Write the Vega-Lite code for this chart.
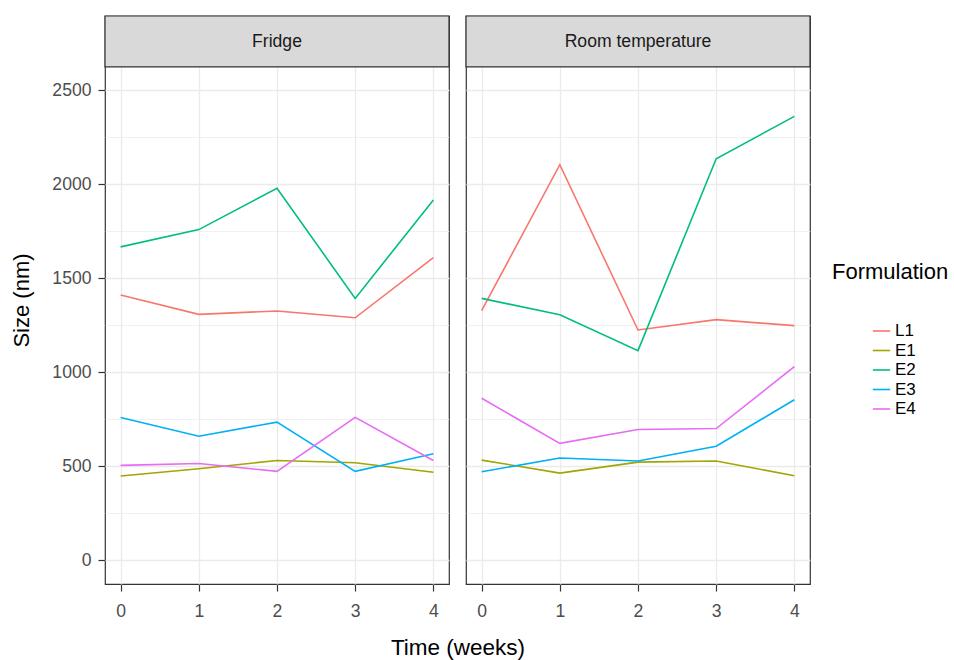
{
  "$schema": "https://vega.github.io/schema/vega-lite/v6.json",
  "padding": {"left": 10, "top": 14, "right": 5, "bottom": 5},
  "background": "white",
  "bounds": "flush",
  "config": {
    "font": "Liberation Sans",
    "view": {"stroke": "#333333", "strokeWidth": 1.2},
    "axis": {
      "domain": false,
      "labelFont": "Liberation Sans",
      "labelFontSize": 17.6,
      "labelColor": "#4D4D4D",
      "tickColor": "#333333",
      "tickSize": 7,
      "tickWidth": 1.2,
      "titleFont": "Liberation Sans",
      "titleFontSize": 22,
      "titleFontWeight": "normal",
      "titleColor": "#000000"
    },
    "header": {
      "titleFont": "Liberation Sans",
      "titleFontSize": 22.5,
      "titleFontWeight": "normal",
      "titleColor": "#000000"
    }
  },
  "data": {
    "values": [
      {"Storage": "Fridge", "Formulation": "L1", "Week": 0, "Size": 1412},
      {"Storage": "Fridge", "Formulation": "L1", "Week": 1, "Size": 1309},
      {"Storage": "Fridge", "Formulation": "L1", "Week": 2, "Size": 1327},
      {"Storage": "Fridge", "Formulation": "L1", "Week": 3, "Size": 1291},
      {"Storage": "Fridge", "Formulation": "L1", "Week": 4, "Size": 1611},
      {"Storage": "Fridge", "Formulation": "E1", "Week": 0, "Size": 449},
      {"Storage": "Fridge", "Formulation": "E1", "Week": 1, "Size": 488},
      {"Storage": "Fridge", "Formulation": "E1", "Week": 2, "Size": 532},
      {"Storage": "Fridge", "Formulation": "E1", "Week": 3, "Size": 520},
      {"Storage": "Fridge", "Formulation": "E1", "Week": 4, "Size": 469},
      {"Storage": "Fridge", "Formulation": "E2", "Week": 0, "Size": 1668},
      {"Storage": "Fridge", "Formulation": "E2", "Week": 1, "Size": 1760},
      {"Storage": "Fridge", "Formulation": "E2", "Week": 2, "Size": 1980},
      {"Storage": "Fridge", "Formulation": "E2", "Week": 3, "Size": 1394},
      {"Storage": "Fridge", "Formulation": "E2", "Week": 4, "Size": 1918},
      {"Storage": "Fridge", "Formulation": "E3", "Week": 0, "Size": 761},
      {"Storage": "Fridge", "Formulation": "E3", "Week": 1, "Size": 661},
      {"Storage": "Fridge", "Formulation": "E3", "Week": 2, "Size": 736},
      {"Storage": "Fridge", "Formulation": "E3", "Week": 3, "Size": 474},
      {"Storage": "Fridge", "Formulation": "E3", "Week": 4, "Size": 568},
      {"Storage": "Fridge", "Formulation": "E4", "Week": 0, "Size": 506},
      {"Storage": "Fridge", "Formulation": "E4", "Week": 1, "Size": 516},
      {"Storage": "Fridge", "Formulation": "E4", "Week": 2, "Size": 474},
      {"Storage": "Fridge", "Formulation": "E4", "Week": 3, "Size": 761},
      {"Storage": "Fridge", "Formulation": "E4", "Week": 4, "Size": 532},
      {"Storage": "Room temperature", "Formulation": "L1", "Week": 0, "Size": 1329},
      {"Storage": "Room temperature", "Formulation": "L1", "Week": 1, "Size": 2105},
      {"Storage": "Room temperature", "Formulation": "L1", "Week": 2, "Size": 1226},
      {"Storage": "Room temperature", "Formulation": "L1", "Week": 3, "Size": 1281},
      {"Storage": "Room temperature", "Formulation": "L1", "Week": 4, "Size": 1249},
      {"Storage": "Room temperature", "Formulation": "E1", "Week": 0, "Size": 534},
      {"Storage": "Room temperature", "Formulation": "E1", "Week": 1, "Size": 465},
      {"Storage": "Room temperature", "Formulation": "E1", "Week": 2, "Size": 523},
      {"Storage": "Room temperature", "Formulation": "E1", "Week": 3, "Size": 529},
      {"Storage": "Room temperature", "Formulation": "E1", "Week": 4, "Size": 451},
      {"Storage": "Room temperature", "Formulation": "E2", "Week": 0, "Size": 1394},
      {"Storage": "Room temperature", "Formulation": "E2", "Week": 1, "Size": 1307},
      {"Storage": "Room temperature", "Formulation": "E2", "Week": 2, "Size": 1116},
      {"Storage": "Room temperature", "Formulation": "E2", "Week": 3, "Size": 2137},
      {"Storage": "Room temperature", "Formulation": "E2", "Week": 4, "Size": 2362},
      {"Storage": "Room temperature", "Formulation": "E3", "Week": 0, "Size": 472},
      {"Storage": "Room temperature", "Formulation": "E3", "Week": 1, "Size": 545},
      {"Storage": "Room temperature", "Formulation": "E3", "Week": 2, "Size": 529},
      {"Storage": "Room temperature", "Formulation": "E3", "Week": 3, "Size": 608},
      {"Storage": "Room temperature", "Formulation": "E3", "Week": 4, "Size": 855},
      {"Storage": "Room temperature", "Formulation": "E4", "Week": 0, "Size": 863},
      {"Storage": "Room temperature", "Formulation": "E4", "Week": 1, "Size": 623},
      {"Storage": "Room temperature", "Formulation": "E4", "Week": 2, "Size": 697},
      {"Storage": "Room temperature", "Formulation": "E4", "Week": 3, "Size": 702},
      {"Storage": "Room temperature", "Formulation": "E4", "Week": 4, "Size": 1031}
    ]
  },
  "facet": {
    "column": {
      "field": "Storage", "type": "nominal",
      "title": "Time (weeks)",
      "header": {"labels": false, "titleOrient": "bottom", "titlePadding": 7}
    }
  },
  "spacing": {"column": 17},
  "spec": {
    "width": 344,
    "height": 568,
    "layer": [
      {
        "mark": {"type": "line", "strokeWidth": 1.6, "clip": true},
        "encoding": {
          "x": {
            "field": "Week", "type": "quantitative",
            "scale": {"domain": [-0.2, 4.2], "nice": false, "zero": false},
            "axis": {
              "title": null,
              "format": "d",
              "labelPadding": 11,
              "values": [0, 0.5, 1, 1.5, 2, 2.5, 3, 3.5, 4],
              "labelExpr": "datum.value % 1 === 0 ? datum.label : ''",
              "tickOpacity": {"condition": {"test": "datum.value % 1 !== 0", "value": 0}, "value": 1},
              "grid": true,
              "gridColor": "#EBEBEB",
              "gridWidth": {"condition": {"test": "datum.value % 1 !== 0", "value": 0.7}, "value": 1.3}
            }
          },
          "y": {
            "field": "Size", "type": "quantitative",
            "scale": {"domain": [-125, 2896], "nice": false, "zero": false},
            "axis": {
              "title": "Size (nm)",
              "titlePadding": 18,
              "labelPadding": 7,
              "values": [0, 250, 500, 750, 1000, 1250, 1500, 1750, 2000, 2250, 2500],
              "labelExpr": "datum.value % 500 === 0 ? datum.label : ''",
              "format": "d",
              "tickOpacity": {"condition": {"test": "datum.value % 500 !== 0", "value": 0}, "value": 1},
              "grid": true,
              "gridColor": "#EBEBEB",
              "gridWidth": {"condition": {"test": "datum.value % 500 !== 0", "value": 0.7}, "value": 1.3}
            }
          },
          "color": {
            "field": "Formulation", "type": "nominal",
            "sort": ["L1", "E1", "E2", "E3", "E4"],
            "scale": {"domain": ["L1", "E1", "E2", "E3", "E4"], "range": ["#F8766D", "#A3A500", "#00BF7D", "#00B0F6", "#E76BF3"]},
            "legend": {
              "title": "Formulation",
              "orient": "none",
              "legendX": 727,
              "legendY": 246,
              "titleFontSize": 22,
              "titleFontWeight": "normal",
              "titleColor": "#000000",
              "titlePadding": 37.5,
              "labelFontSize": 17,
              "labelColor": "#000000",
              "symbolType": "stroke",
              "symbolSize": 300,
              "symbolStrokeWidth": 1.6,
              "rowPadding": 1.5,
              "symbolOffset": 40,
              "labelOffset": 4
            }
          }
        }
      },
      {
        "transform": [{"filter": "datum.Week == 0 && datum.Formulation == 'L1'"}],
        "mark": {"type": "rect", "fill": "#D9D9D9", "stroke": "#333333", "strokeWidth": 1.2},
        "encoding": {
          "x": {"datum": -0.2, "type": "quantitative"},
          "x2": {"datum": 4.2},
          "y": {"datum": 2625, "type": "quantitative"},
          "y2": {"datum": 2896}
        }
      },
      {
        "transform": [{"filter": "datum.Week == 0 && datum.Formulation == 'L1'"}],
        "mark": {"type": "text", "fontSize": 17.6, "color": "#1A1A1A", "font": "Liberation Sans", "baseline": "middle"},
        "encoding": {
          "x": {"datum": 2, "type": "quantitative"},
          "y": {"datum": 2760, "type": "quantitative"},
          "text": {"field": "Storage", "type": "nominal"}
        }
      }
    ]
  }
}
